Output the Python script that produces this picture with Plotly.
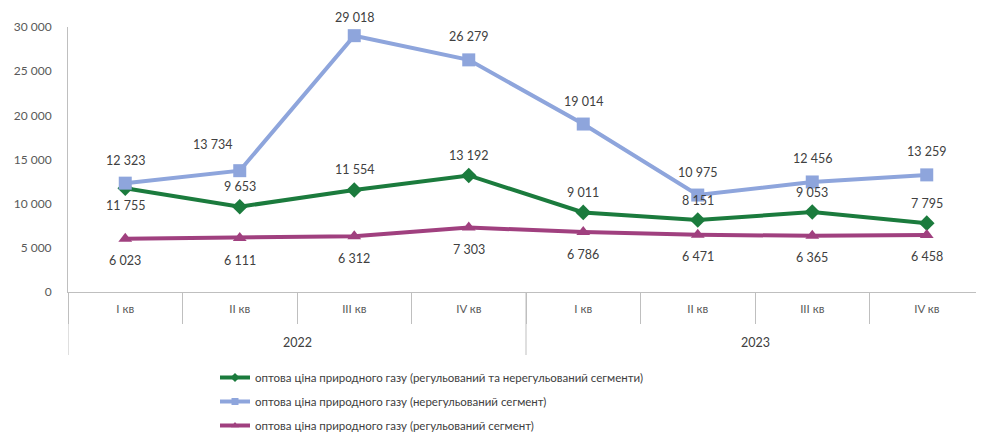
import plotly.graph_objects as go

years = ["2022", "2023"]
quarters = ["I кв", "II кв", "III кв", "IV кв", "I кв", "II кв", "III кв", "IV кв"]

total = [11755, 9653, 11554, 13192, 9011, 8151, 9053, 7795]
unregulated = [12323, 13734, 29018, 26279, 19014, 10975, 12456, 13259]
regulated = [6023, 6111, 6312, 7303, 6786, 6471, 6365, 6458]

names = [
    "оптова ціна природного газу (регульований та нерегульований сегменти)",
    "оптова ціна природного газу (нерегульований сегмент)",
    "оптова ціна природного газу (регульований сегмент)",
]
y_ticks = [0, 5000, 10000, 15000, 20000, 25000, 30000]
Y_MAX = 30000

FONT = "Lato, 'Open Sans', sans-serif"
TXT = "#404040"
AX = "#bfbfbf"
GREEN, BLUE, PURPLE = "#1b7b3d", "#8ea5dc", "#a0407f"

W, H = 976, 433          # page body has an 8px margin
T, B, L = 19, 149, 60
plot_h = H - T - B

xi = list(range(len(quarters)))
n_per_year = len(quarters) // len(years)

# label offsets (pixels): (yshift list, xshift list)
series = [
    (total, names[0], GREEN, "diamond", 12, [-17] + [20] * 7, [0] * 8),
    (unregulated, names[1], BLUE, "square", 13, [23, 26] + [23] * 6, [0, -27] + [0] * 6),
    (regulated, names[2], PURPLE, "triangle-up", 12, [-22] * 8, [0] * 8),
]

fig = go.Figure()
annotations = []
for vals, name, col, sym, msize, shifts, xshifts in series:
    fig.add_trace(go.Scatter(
        x=xi, y=vals, name=name, mode="lines+markers", showlegend=False,
        line=dict(color=col, width=4),
        marker=dict(symbol=sym, size=msize, color=col),
        hoverinfo="y",
    ))
    for i, v in enumerate(vals):
        s = shifts[i]
        if s > 0:
            # keep label inside the figure (distance of point from figure top)
            room = T + plot_h * (1 - v / Y_MAX) - 9
            s = min(s, int(room))
        annotations.append(dict(
            x=i, y=v, xref="x", yref="y", showarrow=False,
            text=f"{v:,}".replace(",", " "),
            yshift=s, xshift=xshifts[i],
            font=dict(size=12.5, color=TXT, family=FONT),
        ))

# legend entries (small markers like the original legend)
for k, (vals, name, col, sym, msize, shifts, xshifts) in enumerate(series):
    fig.add_trace(go.Scatter(
        x=[None], y=[None], name=name, mode="lines+markers",
        legendgroup=str(k),
        line=dict(color=col, width=4),
        marker=dict(symbol=sym, size=7, color=col),
    ))

# year labels and dividers
for j, yr in enumerate(years):
    annotations.append(dict(
        x=j * n_per_year + (n_per_year - 1) / 2, y=-50 / plot_h,
        xref="x", yref="paper", yanchor="middle", showarrow=False,
        text=yr, font=dict(size=12.5, color=TXT, family=FONT),
    ))
shapes = []
for j in range(len(years) + 1):
    xb = j * n_per_year - 0.5
    shapes.append(dict(
        type="line", xref="x", yref="paper", x0=xb, x1=xb,
        y0=0, y1=-63 / plot_h, line=dict(color=AX, width=1),
    ))

fig.update_layout(
    width=W, height=H,
    margin=dict(l=L, r=0, t=T, b=B, autoexpand=False),
    paper_bgcolor="white", plot_bgcolor="white",
    font=dict(family=FONT, size=12, color=TXT),
    annotations=annotations, shapes=shapes,
    legend=dict(
        xref="container", yref="container",
        x=207 / W, y=1 - 355 / H, xanchor="left", yanchor="top",
        font=dict(size=11.5, color=TXT, family=FONT),
        tracegroupgap=5, bgcolor="rgba(0,0,0,0)",
    ),
)
fig.update_xaxes(
    range=[-0.5, len(quarters) - 0.5],
    tickmode="array", tickvals=xi, ticktext=quarters,
    showline=True, linecolor=AX, linewidth=1,
    ticks="outside", ticklen=0, tickcolor=AX,
    ticklabelstandoff=6,
    minor=dict(ticks="outside", ticklen=31, tickcolor=AX, tick0=-0.5, dtick=1, showgrid=False),
    showgrid=False, zeroline=False, automargin=False,
    tickfont=dict(size=11.5, color="#595959", family=FONT),
)
fig.update_yaxes(
    range=[0, Y_MAX], tickvals=y_ticks,
    ticktext=[f"{v:,}".replace(",", " ") for v in y_ticks],
    showline=True, linecolor=AX, linewidth=1,
    showgrid=False, zeroline=False, ticks="", automargin=False,
    ticklabelstandoff=13,
    tickfont=dict(size=12, color="#595959", family=FONT),
)

fig.write_html("out.html")
